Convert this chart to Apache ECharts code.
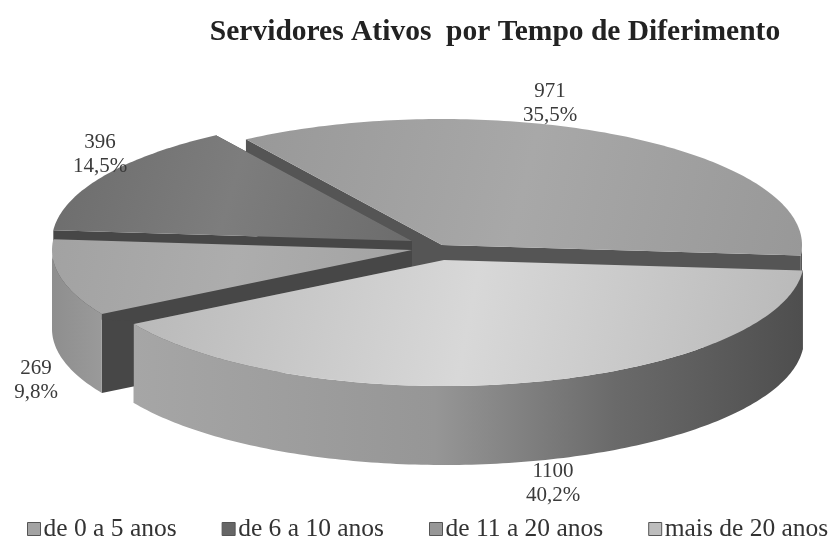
<!DOCTYPE html>
<html><head><meta charset="utf-8">
<style>html,body{margin:0;padding:0;background:#fff}#c{width:830px;height:539px;filter:blur(0.6px)}</style>
<script src="https://cdn.jsdelivr.net/npm/echarts@6/dist/echarts.min.js"></script>
</head><body><div id="c"></div>
<script>
const categories = ['de 0 a 5 anos','de 6 a 10 anos','de 11 a 20 anos','mais de 20 anos'];
const values = [269,396,971,1100];
const percentLabels = ['9,8%','14,5%','35,5%','40,2%'];
const titleText = 'Servidores Ativos  por Tempo de Diferimento';

const START = 149.5, RX = 360, RY = 126, DEPTH = 79;
const apexes = [[412,250],[412,241],[442,245],[444,260]];
const labelAnchors = [[36,380],[100,154],[550,103],[553,483]];
const zOrder = [4,3,2,5];
const legendColors = ['#a3a3a3','#666666','#979797','#bdbdbd'];
const topColors = [['#adadad','#a2a2a2'],['#7d7d7d','#6c6c6c'],['#a8a8a8','#989898'],['#d8d8d8','#b8b8b8']];
const cutColors = ['#474747','#474747','#555555','#555555'];
const wallStops = [
  [[0,'#8e8e8e'],[1,'#9a9a9a']],
  [[0,'#777777'],[1,'#777777']],
  [[0,'#606060'],[1,'#555555']],
  [[0,'#a6a6a6'],[0.45,'#969696'],[0.72,'#6a6a6a'],[1,'#4e4e4e']]
];

const total = values.reduce((a,b)=>a+b,0);
const spans = [];
let cursor = START;
values.forEach(v=>{const s=v/total*360;spans.push([cursor,cursor+s]);cursor+=s;});
const rim=(i,a,d)=>{const r=a*Math.PI/180;return [apexes[i][0]+RX*Math.cos(r),apexes[i][1]+RY*Math.sin(r)+(d||0)];};
function arc(i,a,b,d){const n=Math.max(2,Math.ceil(Math.abs(b-a)));const p=[];for(let k=0;k<=n;k++)p.push(rim(i,a+(b-a)*k/n,d));return p;}
function visibleRange(a,b){
  for(const off of [0,360]){const lo=Math.max(a,off),hi=Math.min(b,off+180);if(hi>lo)return [lo,hi];}
  return null;
}
function cutFace(i,a){const ap=apexes[i];const e=rim(i,a);return [[ap[0],ap[1]],e,[e[0],e[1]+DEPTH],[ap[0],ap[1]+DEPTH]];}
function makeRender(i){
  return function(params,api){
    const [a,b]=spans[i];
    const children=[];
    [a,b].forEach(x=>children.push({type:'polygon',shape:{points:cutFace(i,x)},style:{fill:cutColors[i]}}));
    const vr=visibleRange(a,b);
    if(vr){
      const pts=arc(i,vr[0],vr[1],0).concat(arc(i,vr[1],vr[0],DEPTH));
      children.push({type:'polygon',shape:{points:pts},style:{fill:new echarts.graphic.LinearGradient(0,0,1,0,wallStops[i].map(s=>({offset:s[0],color:s[1]})))}});
    }
    const topPts=[apexes[i].slice()].concat(arc(i,a,b,0));
    children.push({type:'polygon',shape:{points:topPts},style:{fill:new echarts.graphic.LinearGradient(0,0,1,1,[{offset:0,color:topColors[i][1]},{offset:0.5,color:topColors[i][0]},{offset:1,color:topColors[i][1]}])}});
    children.push({type:'text',z2:50,style:{x:labelAnchors[i][0],y:labelAnchors[i][1],text:api.value(0)+'\n'+percentLabels[i],align:'center',verticalAlign:'middle',fontFamily:'"Liberation Serif"',fontSize:21,lineHeight:24,fill:'#3a3a3a'}});
    return {type:'group',children};
  };
}
const chart=echarts.init(document.getElementById('c'),null,{renderer:'canvas'});
chart.setOption({
  animation:false,
  backgroundColor:'#ffffff',
  title:{text:titleText,left:490,top:12,textAlign:'center',textStyle:{fontFamily:'"Liberation Serif"',fontWeight:'bold',fontSize:29.5,color:'#222'}},
  legend:{left:27,top:516,width:803,padding:0,itemGap:45,itemWidth:13,itemHeight:13,icon:'rect',selectedMode:false,
    data:categories,
    textStyle:{fontFamily:'"Liberation Serif"',fontSize:25.5,color:'#333',padding:[0,0,0,-2]},
    itemStyle:{borderColor:'#555',borderWidth:1}},
  series:categories.map((name,i)=>({type:'custom',name,coordinateSystem:'none',z:zOrder[i],
    itemStyle:{color:legendColors[i]},
    renderItem:makeRender(i),data:[[values[i]]],silent:true}))
});
</script></body></html>
